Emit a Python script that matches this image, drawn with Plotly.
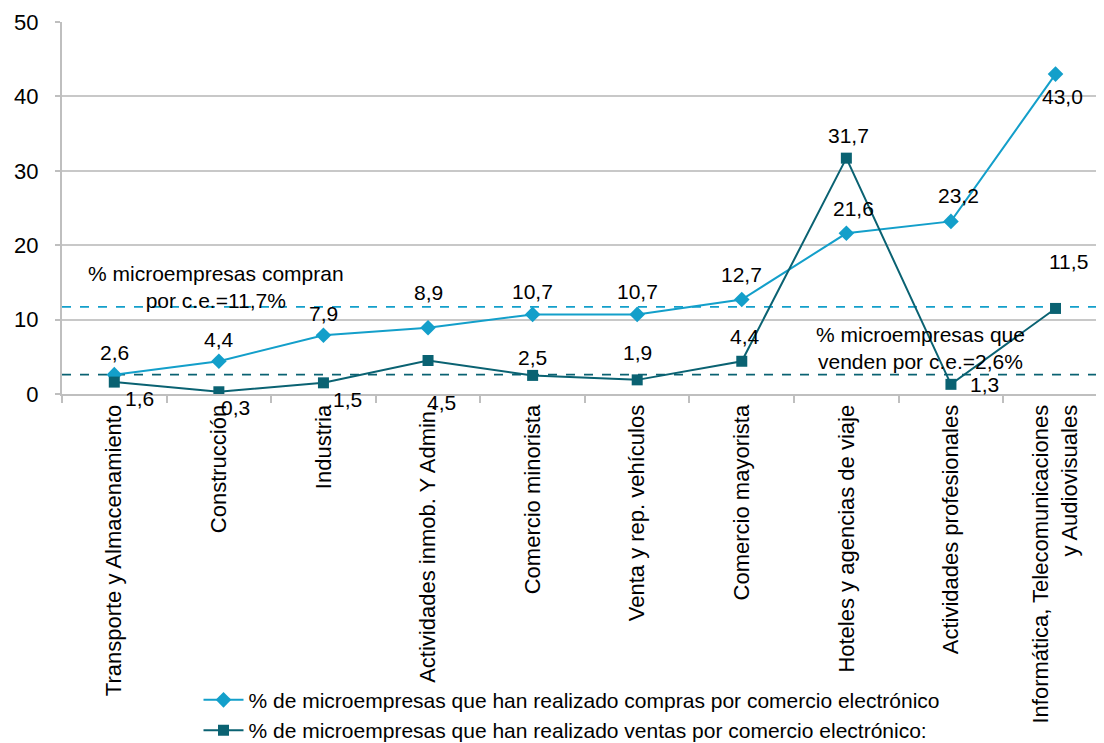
import plotly.graph_objects as go

categorias = [
    "Transporte y Almacenamiento",
    "Construcción",
    "Industria",
    "Actividades inmob. Y Admin.",
    "Comercio minorista",
    "Venta y rep. vehículos",
    "Comercio mayorista",
    "Hoteles y agencias de viaje",
    "Actividades profesionales",
    "Informática, Telecomunicaciones<br>y Audiovisuales",
]
compras = [2.6, 4.4, 7.9, 8.9, 10.7, 10.7, 12.7, 21.6, 23.2, 43.0]
ventas = [1.6, 0.3, 1.5, 4.5, 2.5, 1.9, 4.4, 31.7, 1.3, 11.5]
media_compras = 11.7
media_ventas = 2.6
nombre_compras = "% de microempresas que han realizado compras por comercio electrónico"
nombre_ventas = "% de microempresas que han realizado ventas por comercio electrónico:"

# label offsets (px)
shift_compras = [(0, 22), (0, 22), (0, 22), (0, 35), (0, 23), (0, 23), (0, 25),
                 (7, 25), (8, 26), (7, -22)]
shift_ventas = [(25, -16), (17, -16), (24, -17), (13, -42), (0, 18), (0, 27),
                (3, 25), (2, 23), (34, 0), (13, 47)]

C_COMPRAS = "#139fca"
C_VENTAS = "#0a6272"
FONT = "Liberation Sans, Arial, sans-serif"

fig = go.Figure()
fig.add_trace(go.Scatter(
    x=categorias, y=compras, name=nombre_compras, mode="lines+markers",
    line=dict(color=C_COMPRAS, width=2),
    marker=dict(symbol="diamond", size=12, color=C_COMPRAS),
))
fig.add_trace(go.Scatter(
    x=categorias, y=ventas, name=nombre_ventas, mode="lines+markers",
    line=dict(color=C_VENTAS, width=2),
    marker=dict(symbol="square", size=11, color=C_VENTAS),
))

def fmt(v):
    return f"{v:.1f}".replace(".", ",")

LBL = dict(size=21, color="#000", family=FONT)
ann = []
for c, v, (dx, dy) in zip(categorias, compras, shift_compras):
    ann.append(dict(x=c, y=v, text=fmt(v), showarrow=False, xshift=dx, yshift=dy, font=LBL))
for c, v, (dx, dy) in zip(categorias, ventas, shift_ventas):
    ann.append(dict(x=c, y=v, text=fmt(v), showarrow=False, xshift=dx, yshift=dy, font=LBL))
ann.append(dict(xref="paper", yref="y", x=0.1467, y=14.4, xanchor="center", yanchor="middle",
                text="% microempresas compran<br>por c.e.=11,7%", showarrow=False,
                align="center", font=LBL))
ann.append(dict(xref="paper", yref="y", x=0.818, y=6.2, xanchor="center", yanchor="middle",
                text="% microempresas que<br>venden por c.e.=2,6%", showarrow=False,
                align="center", font=LBL))

shapes = [
    dict(type="line", xref="paper", yref="y", x0=0, x1=1, y0=media_compras, y1=media_compras,
         line=dict(color=C_COMPRAS, width=1.8, dash="dash"), layer="below"),
    dict(type="line", xref="paper", yref="y", x0=0, x1=1, y0=media_ventas, y1=media_ventas,
         line=dict(color=C_VENTAS, width=1.8, dash="dash"), layer="below"),
]

fig.update_layout(
    width=1104, height=743,
    margin=dict(l=54, r=0, t=14, b=357, autoexpand=False),
    paper_bgcolor="white", plot_bgcolor="white",
    font=dict(family=FONT, size=20, color="#000"),
    annotations=ann, shapes=shapes,
    showlegend=True,
    legend=dict(x=0.13, y=-0.768, xanchor="left", yanchor="top",
                font=dict(size=21, color="#000", family=FONT),
                bgcolor="rgba(0,0,0,0)", tracegroupgap=0, itemwidth=40),
)
fig.update_xaxes(
    type="category", range=[-0.5, 9.54], showgrid=False, automargin=False,
    showline=True, linecolor="#bfbfbf", linewidth=2,
    ticks="outside", tickson="boundaries", ticklen=7, tickcolor="#bfbfbf", tickwidth=2,
    tickangle=-90, tickfont=dict(size=22, color="#000", family=FONT),
)
fig.update_yaxes(
    range=[0, 50], dtick=10, showgrid=True, gridcolor="#c8c8c8", gridwidth=2,
    showline=True, linecolor="#bfbfbf", linewidth=2, automargin=False,
    ticks="outside", ticklen=5, tickcolor="#bfbfbf", tickwidth=2,
    ticklabelstandoff=12, zeroline=False,
    tickfont=dict(size=22, color="#000", family=FONT),
)

fig.write_html("out.html")
